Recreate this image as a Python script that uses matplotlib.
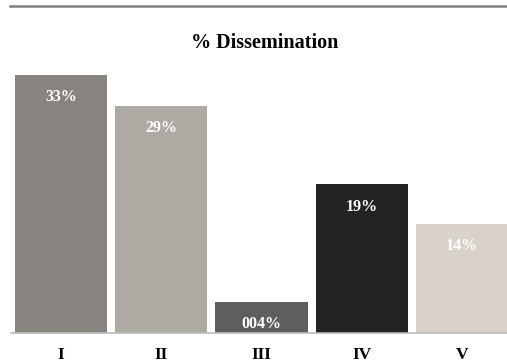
import numpy as np
import matplotlib.pyplot as plt
from matplotlib.lines import Line2D

categories = ['I', 'II', 'III', 'IV', 'V']
values = [33, 29, 4, 19, 14]
labels = ['33%', '29%', '004%', '19%', '14%']
colors = ['#878480', '#ADA9A3', '#5E5E5E', '#232323', '#D8D2C9']

plt.rcParams['font.family'] = ['Liberation Serif', 'DejaVu Serif']

W, H = 507, 364
fig = plt.figure(figsize=(W / 100, H / 100), dpi=100)
ax = fig.add_axes([11 / W, 31 / H, 501 / W, 258 / H])

x = np.arange(len(categories))
bars = ax.bar(x, values, width=0.92, color=colors)
for b, lab in zip(bars, labels):
    ax.annotate(lab, (b.get_x() + b.get_width() / 2, b.get_height()),
                xytext=(0, -16), textcoords='offset points',
                ha='center', va='center', color='white',
                fontsize=11.5, fontweight='bold')

ax.set_xlim(-0.5, 4.5)
ax.set_ylim(0, 33)
ax.set_xticks(x)
ax.set_xticklabels(categories, fontsize=12.5, fontweight='bold')
ax.tick_params(axis='x', length=0, pad=10)
ax.set_yticks([])
for s in ['top', 'left', 'right']:
    ax.spines[s].set_visible(False)
ax.spines['bottom'].set_color('#BBBBBB')
ax.spines['bottom'].set_linewidth(1.2)

# rule across the top and the title
fig.add_artist(Line2D([10 / W, 1], [1 - 6 / H, 1 - 6 / H],
                      color='#808080', lw=1.8, transform=fig.transFigure))
fig.text(0.522, 1 - 43 / H, '% Dissemination', ha='center', va='center',
         fontsize=14.5, fontweight='bold')

fig.savefig('out.png', dpi=100)
